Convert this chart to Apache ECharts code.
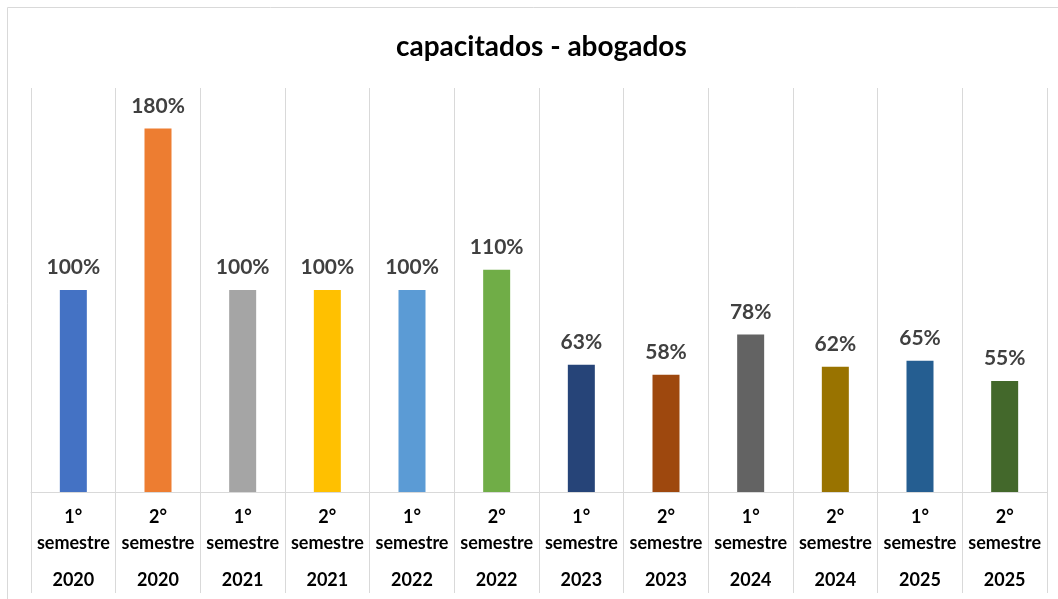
<!DOCTYPE html>
<html><head><meta charset="utf-8">
<script src="https://cdn.jsdelivr.net/npm/echarts@6/dist/echarts.min.js"></script>
<style>html,body{margin:0;padding:0;background:#fff}#c{width:1058px;height:599px}</style>
</head><body><div id="c"></div>
<script>
var semesters = ['1°','2°','1°','2°','1°','2°','1°','2°','1°','2°','1°','2°'];
var years = ['2020','2020','2021','2021','2022','2022','2023','2023','2024','2024','2025','2025'];
var values = [100,180,100,100,100,110,63,58,78,62,65,55];
var colors = ['#4472C4','#ED7D31','#A5A5A5','#FFC000','#5B9BD5','#70AD47','#264478','#9E480E','#636363','#997300','#255E91','#43682B'];
var categories = semesters.map(function(s,i){return s+' semestre '+years[i];});

var chart = echarts.init(document.getElementById('c'));
chart.setOption({
  animation:false,
  textStyle:{fontFamily:'Lato'},
  graphic:[{type:'rect',shape:{x:7.5,y:7.5,width:1200,height:800},style:{fill:'none',stroke:'#d9d9d9',lineWidth:1}}],
  title:{text:'capacitados - abogados',left:391,top:28,textStyle:{fontFamily:'Lato',fontWeight:'bold',fontSize:28,color:'#000'}},
  grid:{left:31,right:11,top:88,bottom:107,containLabel:false},
  xAxis:{type:'category',data:categories,boundaryGap:true,
    axisLine:{lineStyle:{color:'#d9d9d9',width:1}},
    axisTick:{show:true,length:101,lineStyle:{color:'#d9d9d9'}},
    splitLine:{show:true,lineStyle:{color:'#d9d9d9',width:1}},
    axisLabel:{interval:0,margin:12,
      formatter:function(v,i){return '{a|'+semesters[i]+'}\n{a|semestre}\n{b|'+years[i]+'}';},
      rich:{a:{fontFamily:'Lato',fontWeight:'bold',fontSize:18,color:'#000',lineHeight:26},
            b:{fontFamily:'Lato',fontWeight:'bold',fontSize:18,color:'#000',lineHeight:48}}}},
  yAxis:{type:'value',min:0,max:200,show:false,splitLine:{show:false}},
  series:[{type:'bar',barWidth:27,
    data:values.map(function(v,i){return {value:v,itemStyle:{color:colors[i]}};}),
    label:{show:true,position:'top',distance:12,formatter:'{c}%',fontFamily:'Lato',fontWeight:'bold',fontSize:21,color:'#404040'}}]
});
</script></body></html>
